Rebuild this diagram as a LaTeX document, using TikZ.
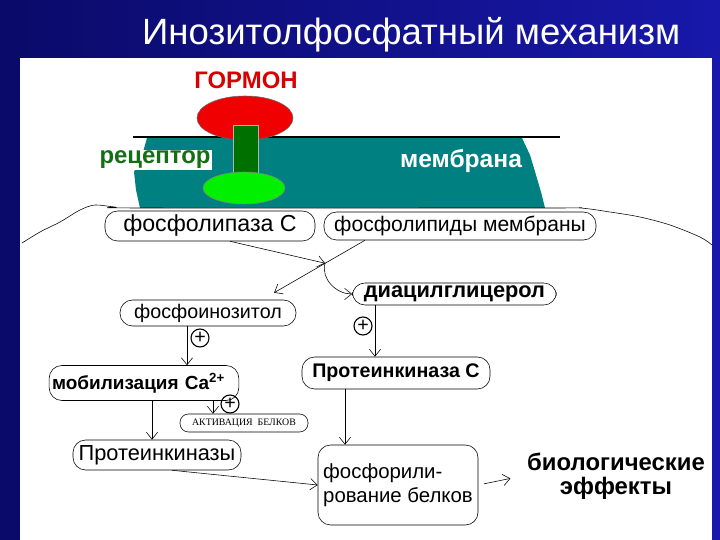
\documentclass[tikz,border=0pt]{standalone}
\usepackage{fontspec}
\setmainfont{Liberation Sans}
\newfontfamily\tinyserif{Liberation Serif}
\usetikzlibrary{arrows.meta}

\definecolor{slideblue}{RGB}{10,10,105}
\definecolor{slidebright}{RGB}{24,24,170}
\definecolor{membteal}{RGB}{0,128,128}
\definecolor{hormred}{RGB}{240,0,0}
\definecolor{stemgreen}{RGB}{0,112,0}
\definecolor{lightgreen}{RGB}{0,240,0}
\definecolor{recgreen}{RGB}{20,110,20}

\tikzset{
  pill/.style={draw, rounded corners=9pt, inner sep=2pt},
  arr/.style={-{Straight Barb[length=5pt,width=8pt]}, thin},
  plus/.style={circle, draw, thick, inner sep=0pt, minimum size=0.45cm, font=\fontsize{14}{14}\selectfont}
}

\begin{document}
\begin{tikzpicture}
  \useasboundingbox (0,0) rectangle (18,13.5);
  % Background
  \shade[left color=slideblue, right color=slidebright] (0,0) rectangle (18,13.5);
  \fill[white] (0.5,0) rectangle (17.8,12.05);
  \node (title) at (10.28,12.64) [text=white, font=\fontsize{26}{28}\selectfont] {Инозитолфосфатный механизм};

  % Membrane and receptor
  \fill[membteal] (3.675,10.05) -- (13.05,10.05) -- (13.25,9.625) -- (13.4,9.125) -- (13.525,8.7)
    -- (13.625,8.3) -- (3.5,8.3) -- (3.4,8.75) -- (3.35,9.2) -- (3.575,9.7) -- cycle;
  \draw[thick] (3.325,10.075) -- (14,10.075);
  \draw plot[smooth] coordinates {(0.55,7.425) (1.0,7.7) (1.5,7.95) (2.0,8.25) (2.375,8.375)
    (2.875,8.325) (3.5,8.3) (13.625,8.3) (14.5,8.3) (15.25,8.2) (16.0,8.075) (16.75,7.875) (17.5,7.575) (17.8,7.375)};
  \filldraw[fill=hormred, draw=black!60] (6.125,10.55) ellipse [x radius=1.2, y radius=0.55];
  \filldraw[fill=stemgreen, draw=black!30] (5.825,9.125) rectangle (6.45,10.375);
  \filldraw[fill=lightgreen, draw=black!50] (6.1,8.8) ellipse [x radius=1.025, y radius=0.4];

  \node (hormone) at (6.15,11.5) [text=hormred!90!black, font=\bfseries\fontsize{17}{19}\selectfont] {ГОРМОН};
  \node (receptor) at (3.875,9.5) [fill=white, text=recgreen, inner sep=1pt, font=\bfseries\fontsize{17}{18}\selectfont] {рецептор};
  \node (membrane) at (11.525,9.475) [text=white, font=\bfseries\fontsize{17.5}{19}\selectfont] {мембрана};

  % Nodes
  \node (plc) at (5.25,7.85) [pill, minimum width=5.25cm, minimum height=0.75cm, font=\fontsize{16.5}{18}\selectfont] {фосфолипаза С};
  \node (pl) at (11.5,7.85) [pill, minimum width=6.8cm, minimum height=0.7cm, font=\fontsize{15}{17}\selectfont] {фосфолипиды мембраны};
  \node (dag) at (11.36,6.15) [pill, minimum width=5.1cm, minimum height=0.55cm, font=\bfseries\fontsize{15.5}{16}\selectfont] {диацилглицерол};
  \node (pi) at (5.2,5.675) [pill, minimum width=4.4cm, minimum height=0.65cm, font=\fontsize{14}{16}\selectfont] {фосфоинозитол};
  \node (ca) at (3.6,3.925) [pill, text width=4.6cm, align=left, minimum height=0.875cm, font=\bfseries\fontsize{13.5}{15}\selectfont] {мобилизация Ca\textsuperscript{2+}};
  \node (act) at (6.1,2.925) [pill, rounded corners=6pt, minimum width=3.2cm, minimum height=0.45cm, font=\tinyserif\fontsize{7}{8}\selectfont] {АКТИВАЦИЯ\ \ БЕЛКОВ};
  \node (pks) at (3.925,2.125) [pill, minimum width=4.2cm, minimum height=0.75cm, font=\fontsize{15.5}{17}\selectfont] {Протеинкиназы};
  \node (pkc) at (9.9,4.175) [pill, minimum width=4.7cm, minimum height=0.8cm, font=\bfseries\fontsize{14}{16}\selectfont] {Протеинкиназа С};
  \node (phos) at (9.95,1.375) [pill, align=left, minimum width=4cm, minimum height=2cm, font=\fontsize{14.5}{17}\selectfont] {фосфорили-\\рование белков};
  \node (bio) at (15.4,1.6) [align=center, font=\bfseries\fontsize{17}{17}\selectfont] {биологические\\эффекты};

  \node (plusa) at (5.0,5.05) [plus] {+};
  \node (plusb) at (5.75,3.4) [plus] {+};
  \node (plusc) at (9.075,5.35) [plus] {+};
  \coordinate (split) at (8.125,6.92);

  % Edges
  \draw[arr] (plc.south -| 5.75,0) -- (split);
  \draw[arr, shorten >=0.35cm] (pl.south -| 9.125,0) -- (pi.north -| 6.55,0);
  \draw[arr] (split) to [out=-105,in=180] (dag.west);
  \draw[arr] (pi.south -| 4.675,0) -- (ca.north -| 4.675,0);
  \draw[arr] (ca.south -| 3.8,0) -- (pks.north -| 3.8,0);
  \draw[arr] (ca.south -| 5.325,0) -- (act.north -| 5.325,0);
  \draw[arr] (pks.south -| 4.3,0) -- (phos.west);
  \draw[arr] (dag.south -| 9.375,0) -- (pkc.north -| 9.375,0);
  \draw[arr] (pkc.south -| 8.625,0) -- (phos.north -| 8.625,0);
  \draw[arr, shorten <=0.15cm, shorten >=0.3cm] (phos.east) -- (bio.west);
\end{tikzpicture}
\end{document}
